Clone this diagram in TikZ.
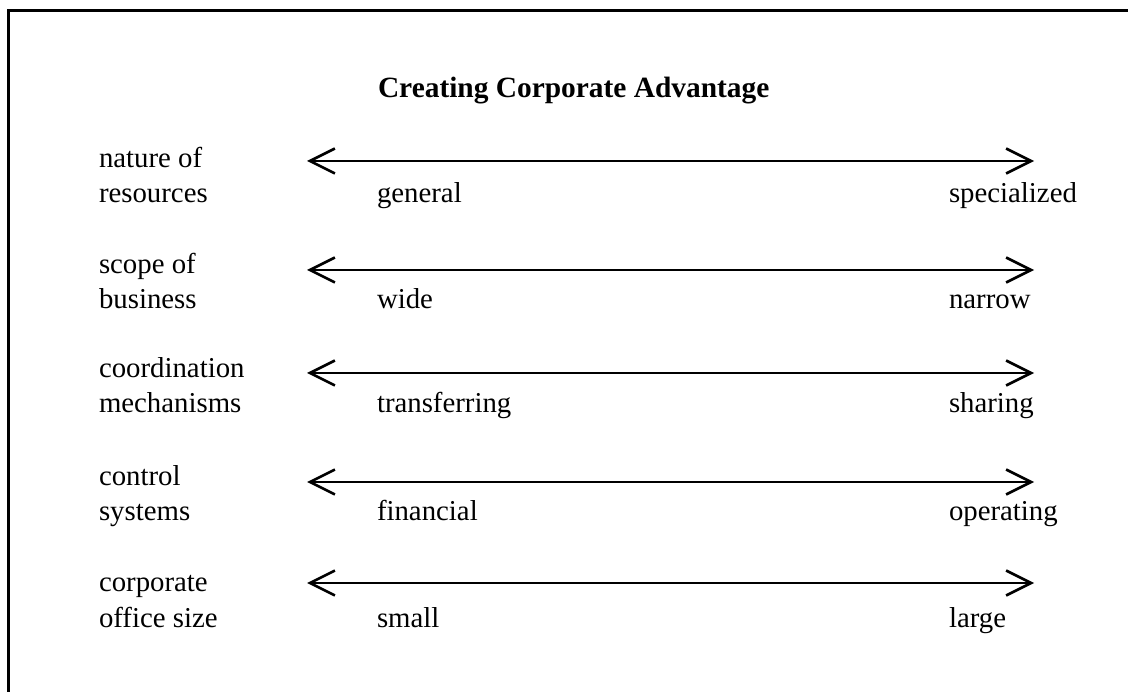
\documentclass[tikz,border=0pt]{standalone}
\usepackage{fontspec}
\setmainfont{Liberation Serif}
\usetikzlibrary{arrows.meta}
\tikzset{barbtip/.tip={Straight Barb[length=25pt, width=25pt, line width=2.6pt]}}
\begin{document}
\begin{tikzpicture}[x=1pt,y=-1pt,
  txt/.style={anchor=base west, inner sep=0pt, outer sep=0pt,
              font=\fontsize{28.8}{35.3}\selectfont, align=left},
  titletxt/.style={txt, font=\fontsize{29.4}{35.3}\selectfont\bfseries},
  scale arrow/.style={line width=2.6pt, barbtip-barbtip}]
\useasboundingbox (0,0) rectangle (1128,692);

% frame
\draw[line width=2.8pt] (8.7,692) -- (8.7,10.3) -- (1128,10.3);

% title
\node[titletxt] (title) at (378,98) {Creating Corporate Advantage};

% one row per dimension: two-line label (anchored on its last line),
% double-headed scale arrow, and the two poles under it
\foreach \n/\ay/\by/\labA/\labB/\lo/\hi in {
  1/161/203/nature of/resources/general/specialized,
  2/270/309/scope of/business/wide/narrow,
  3/373/413/coordination/mechanisms/transferring/sharing,
  4/482/521/control/systems/financial/operating,
  5/583/627/corporate/office size/small/large} {
  \node[txt] (lab\n) at (99,\by) {\labA\\\labB};
  \coordinate (L\n) at (307,\ay);
  \coordinate (R\n) at (1034,\ay);
  \draw[scale arrow] (L\n) -- (R\n);
  \node[txt] (lo\n) at (377,\by) {\lo};
  \node[txt] (hi\n) at (949,\by) {\hi};
}
\end{tikzpicture}
\end{document}
